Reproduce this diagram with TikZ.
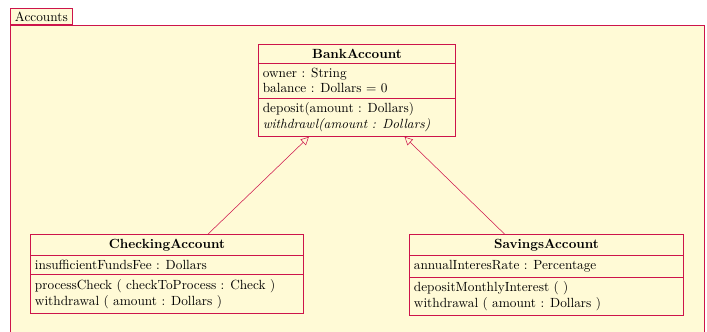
\documentclass[tikz,border=0pt]{standalone}
\usetikzlibrary{shapes.multipart,arrows.meta}

\definecolor{umlline}{RGB}{205,20,75}
\definecolor{umlfill}{RGB}{255,250,214}

\tikzset{
    umlclass/.style={rectangle split, rectangle split parts=3, draw=umlline, fill=umlfill,
        rectangle split part align={center,left,left}, align=left, anchor=north},
    inherit/.style={draw=umlline, -{Triangle[open, length=6pt, width=6pt]}}
}

\begin{document}
\begin{tikzpicture}[x=0.02646cm, y=-0.02646cm]

        \useasboundingbox (0, 0) rectangle (707, 332);

        % package frame
        \draw[umlline, fill=umlfill] (10, 25) rectangle (704, 345);
        \node[draw=umlline, fill=umlfill, anchor=south west, inner xsep=3.5pt, inner ysep=2.5pt] (tab) at (10, 25) {Accounts};

        \node[umlclass, minimum width=198*0.75pt] (bank) at (357, 44) {
            \textbf{BankAccount}
            \nodepart{two} owner : String\\ balance : Dollars = 0
            \nodepart{three} deposit(amount : Dollars)\\ \textit{withdrawl(amount : Dollars)}
        };

        \node[umlclass, minimum width=274*0.75pt] (checking) at (167, 234) {
            \textbf{CheckingAccount}
            \nodepart{two} insufficientFundsFee : Dollars
            \nodepart{three} processCheck ( checkToProcess : Check )\\ withdrawal ( amount : Dollars )
        };

        \node[umlclass, minimum width=275*0.75pt] (savings) at (546.5, 234) {
            \textbf{SavingsAccount}
            \nodepart{two} annualInteresRate : Percentage
            \nodepart{three} depositMonthlyInterest ( )\\ withdrawal ( amount : Dollars )
        };

        \draw[inherit] (checking) -- (bank);
        \draw[inherit] (savings) -- (bank);

\end{tikzpicture}
\end{document}
